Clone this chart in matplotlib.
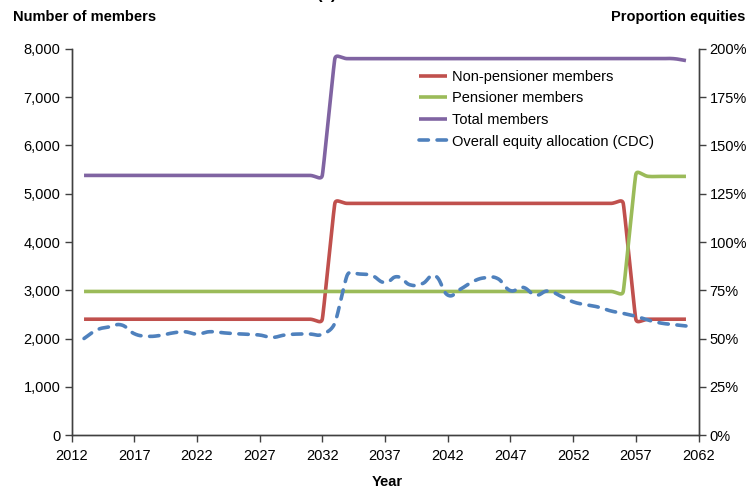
import numpy as np
import matplotlib
matplotlib.use("Agg")
import matplotlib.pyplot as plt
from matplotlib.ticker import FuncFormatter, MultipleLocator, FixedLocator

plt.rcParams['font.family'] = ['Liberation Sans', 'DejaVu Sans']

years = np.arange(2013, 2062)

non_pensioner = [2400] * 20 + [4800] * 24 + [2400] * 5
pensioner = [2975] * 44 + [5400] + [5360] * 4
total_members = [5380] * 20 + [7800] * 28 + [7760]

equity_pct = [
    50.0, 54.4, 56.0, 57.0, 52.5, 51.2, 51.5, 52.8, 53.5, 52.3,   # 2013-2022
    53.5, 53.0, 52.5, 52.2, 51.8, 50.6, 51.8, 52.3, 52.3, 52.2,   # 2023-2032
    58.0, 83.0, 83.4, 82.5, 79.0, 82.0, 77.8, 78.5, 82.5, 72.5,   # 2033-2042
    75.5, 79.5, 81.5, 81.0, 74.8, 76.5, 72.5, 74.6, 72.0, 69.0,   # 2043-2052
    67.5, 66.3, 64.3, 63.0, 61.5, 59.5, 58.0, 57.2, 56.5,         # 2053-2061
]

x_ticks = np.arange(2012, 2063, 5)

series_names = ["Non-pensioner members", "Pensioner members", "Total members",
                "Overall equity allocation (CDC)"]
series_colors = ["#C0504D", "#9BBB59", "#8064A2", "#4F81BD"]

W, H, DPI = 751, 490, 100
AX_L, AX_R, AX_T, AX_B = 71.5, 698.5, 49, 435   # axes box in pixels
X0, X1 = 2012, 2062
Y_MEM = 8000
Y_PCT = 200


def smoothed(xs, ys, sx, sy, k=0.45, n=24):
    """Bezier smoothing computed in screen space, returned in data units."""
    P = np.column_stack([np.asarray(xs, float) * sx, np.asarray(ys, float) * sy])
    m = len(P)
    seglen = np.linalg.norm(np.diff(P, axis=0), axis=1)
    out = [P[0]]
    t = np.linspace(0, 1, n)[1:]
    for i in range(m - 1):
        p0, p3 = P[i], P[i + 1]
        L = seglen[i]
        ta = P[min(i + 1, m - 1)] - P[max(i - 1, 0)]
        tb = P[min(i + 2, m - 1)] - P[i]
        ta = ta / np.linalg.norm(ta)
        tb = tb / np.linalg.norm(tb)
        la = k * min(L, seglen[i - 1]) if i > 0 else k * L
        lb = k * min(L, seglen[i + 1]) if i + 1 < m - 1 else k * L
        p1 = p0 + ta * la
        p2 = p3 - tb * lb
        seg = ((1 - t) ** 3)[:, None] * p0 + (3 * (1 - t) ** 2 * t)[:, None] * p1 \
            + (3 * (1 - t) * t ** 2)[:, None] * p2 + (t ** 3)[:, None] * p3
        out.extend(seg)
    out = np.array(out)
    return out[:, 0] / sx, out[:, 1] / sy


fig = plt.figure(figsize=(W / DPI, H / DPI), dpi=DPI)
ax = fig.add_axes([AX_L / W, 1 - AX_B / H, (AX_R - AX_L) / W, (AX_B - AX_T) / H])
ax2 = ax.twinx()

sx = (AX_R - AX_L) / (X1 - X0)
sy_mem = (AX_B - AX_T) / Y_MEM
sy_pct = (AX_B - AX_T) / Y_PCT

handles = []
for vals, name, col in zip([non_pensioner, pensioner, total_members], series_names[:3], series_colors[:3]):
    xx, yy = smoothed(years - X0, vals, sx, sy_mem)
    h, = ax.plot(xx + X0, yy, color=col, lw=2.6, solid_capstyle='butt', label=name)
    handles.append(h)

xx, yy = smoothed(years - X0, equity_pct, sx, sy_pct)
h, = ax2.plot(xx + X0, yy, color=series_colors[3], lw=2.6, linestyle=(0, (2.6, 2.4)),
              dash_capstyle='round', label=series_names[3])
handles.append(h)

ax.set_xlim(X0, X1)
ax.set_ylim(0, Y_MEM)
ax2.set_ylim(0, Y_PCT)

ax.xaxis.set_major_locator(FixedLocator(x_ticks))
ax.xaxis.set_major_formatter(FuncFormatter(lambda v, p: f"{int(round(v))}"))
ax.yaxis.set_major_locator(MultipleLocator(1000))
ax2.yaxis.set_major_locator(MultipleLocator(25))
ax.yaxis.set_major_formatter(FuncFormatter(lambda v, p: f"{int(v):,}"))
ax2.yaxis.set_major_formatter(FuncFormatter(lambda v, p: f"{int(v)}%"))

for a in (ax, ax2):
    a.tick_params(direction='out', length=5, width=1, color='#404040',
                  labelsize=10.5, labelcolor='black', pad=3)
    a.spines['top'].set_visible(False)
    for s in ('left', 'right', 'bottom'):
        a.spines[s].set_color('#404040')
        a.spines[s].set_linewidth(1)
ax.tick_params(axis='x', pad=5)

ax.legend(handles=handles, loc='upper left', bbox_to_anchor=(413 / W, 1 - 64 / H),
          bbox_transform=fig.transFigure, frameon=False, fontsize=10.5,
          handlelength=1.9, handletextpad=0.35, labelspacing=0.52, borderaxespad=0)

fig.text(13 / W, 1 - 17 / H, "Number of members", ha='left', va='center',
         fontsize=10.5, fontweight='bold')
fig.text(745 / W, 1 - 17 / H, "Proportion equities", ha='right', va='center',
         fontsize=10.5, fontweight='bold')
fig.text(387 / W, 1 - 482 / H, "Year", ha='center', va='center',
         fontsize=10.5, fontweight='bold')
fig.text(326 / W, 1 + 1 / H, "(a)", ha='center', va='baseline',
         fontsize=12, fontweight='bold')

fig.savefig("out.png", dpi=DPI)
